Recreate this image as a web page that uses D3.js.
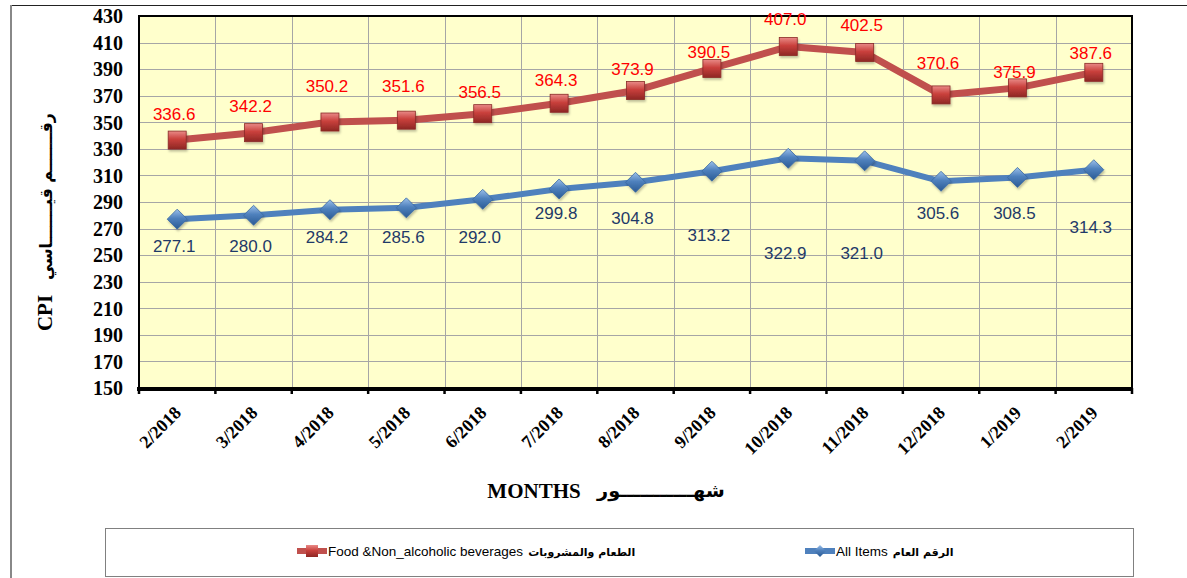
<!DOCTYPE html>
<html lang="en">
<head>
  <meta charset="UTF-8">
  <title>CPI Food and All Items</title>
  <style>
    body { margin: 0; background: #fff; }
    svg { display: block; }
    .ytick text { font-family: "Liberation Serif", "Times New Roman", serif; font-weight: bold; font-size: 20px; fill: #000; }
    .xlabel { font-family: "Liberation Serif", "Times New Roman", serif; font-weight: bold; font-size: 18px; fill: #000; }
    .val { font-family: "Liberation Sans", Arial, sans-serif; font-size: 17px; }
    .legend-text { font-family: "Liberation Sans", Arial, sans-serif; font-size: 13.5px; fill: #000; }
    .title-en { font-family: "Liberation Serif", "Times New Roman", serif; font-weight: bold; fill: #000; }
    .title-ar { font-family: "DejaVu Sans", sans-serif; font-weight: bold; fill: #000; }
  </style>
</head>
<body>
<div id="chart"></div>
<script src="https://cdn.jsdelivr.net/npm/d3@7"></script>
<script>
// data
const months = ["2/2018", "3/2018", "4/2018", "5/2018", "6/2018", "7/2018", "8/2018",
                "9/2018", "10/2018", "11/2018", "12/2018", "1/2019", "2/2019"];
const foodValues = [336.6, 342.2, 350.2, 351.6, 356.5, 364.3, 373.9, 390.5, 407.0, 402.5, 370.6, 375.9, 387.6];
const allItemsValues = [277.1, 280.0, 284.2, 285.6, 292.0, 299.8, 304.8, 313.2, 322.9, 321.0, 305.6, 308.5, 314.3];
const yTicks = [150, 170, 190, 210, 230, 250, 270, 290, 310, 330, 350, 370, 390, 410, 430];

// label nudges (px) as placed in the original sheet
const foodLabelDy = [-26, -27, -36, -34, -22, -23, -22, -16, -28, -28, -32, -16, -19];
const allLabelDy = [27, 31, 27, 29, 38, 24, 36, 64, 95, 92, 32, 36, 57];

const W = 1187, H = 578;
const plot = { left: 139, right: 1132, top: 16, bottom: 388 };

const svg = d3.select('#chart').append('svg')
  .attr('width', W).attr('height', H);

const defs = svg.append('defs');
const gRed = defs.append('linearGradient').attr('id', 'gRed')
  .attr('x1', 0).attr('y1', 0).attr('x2', 0).attr('y2', 1);
gRed.append('stop').attr('offset', '0%').attr('stop-color', '#e98a87');
gRed.append('stop').attr('offset', '45%').attr('stop-color', '#c9403c');
gRed.append('stop').attr('offset', '100%').attr('stop-color', '#8e2724');
const gBlue = defs.append('linearGradient').attr('id', 'gBlue')
  .attr('x1', 0).attr('y1', 0).attr('x2', 0).attr('y2', 1);
gBlue.append('stop').attr('offset', '0%').attr('stop-color', '#9cc0ea');
gBlue.append('stop').attr('offset', '45%').attr('stop-color', '#4f81bd');
gBlue.append('stop').attr('offset', '100%').attr('stop-color', '#2a5a94');
const shadow = defs.append('filter').attr('id', 'shadow')
  .attr('x', '-30%').attr('y', '-30%').attr('width', '160%').attr('height', '170%');
shadow.append('feDropShadow').attr('dx', 1).attr('dy', 2).attr('stdDeviation', 1.2)
  .attr('flood-color', '#000').attr('flood-opacity', 0.25);

// outer frame bits
svg.append('line').attr('x1', 11).attr('x2', W).attr('y1', 5.5).attr('y2', 5.5)
  .attr('stroke', '#222').attr('stroke-width', 1.2);
svg.append('line').attr('x1', 11).attr('x2', 11).attr('y1', 5).attr('y2', H)
  .attr('stroke', '#888').attr('stroke-width', 2);

const x = d3.scaleBand().domain(months).range([plot.left, plot.right]).padding(0);
const y = d3.scaleLinear().domain([150, 430]).range([plot.bottom, plot.top]);
const cx = d => x(d) + x.bandwidth() / 2;

// plot background
svg.append('rect')
  .attr('x', plot.left).attr('y', plot.top)
  .attr('width', plot.right - plot.left).attr('height', plot.bottom - plot.top)
  .attr('fill', '#ffffcc');

// grid
svg.append('g').selectAll('line')
  .data(yTicks.slice(1, -1))
  .join('line')
  .attr('x1', plot.left).attr('x2', plot.right)
  .attr('y1', d => Math.round(y(d)) + 0.5).attr('y2', d => Math.round(y(d)) + 0.5)
  .attr('stroke', '#a6a6a6').attr('stroke-width', 1);
svg.append('g').selectAll('line')
  .data(months.slice(1))
  .join('line')
  .attr('x1', d => Math.round(x(d)) + 0.5).attr('x2', d => Math.round(x(d)) + 0.5)
  .attr('y1', plot.top).attr('y2', plot.bottom)
  .attr('stroke', '#a6a6a6').attr('stroke-width', 1);

// plot border
svg.append('rect')
  .attr('x', plot.left).attr('y', plot.top)
  .attr('width', plot.right - plot.left).attr('height', plot.bottom - plot.top)
  .attr('fill', 'none').attr('stroke', '#000').attr('stroke-width', 2);

// y axis labels
svg.append('g')
  .attr('class', 'ytick')
  .attr('transform', `translate(${plot.left},0)`)
  .call(d3.axisLeft(y).tickValues(yTicks).tickSize(0).tickPadding(16).tickFormat(d3.format('d')))
  .call(g => g.select('.domain').remove())
  .selectAll('text').attr('dy', '0.34em');

// x axis: thick base line with ticks between categories
const boundaries = months.map(m => x(m)).concat([plot.right]);
svg.append('line')
  .attr('x1', plot.left - 2).attr('x2', plot.right + 1)
  .attr('y1', plot.bottom + 1).attr('y2', plot.bottom + 1)
  .attr('stroke', '#000').attr('stroke-width', 4);
svg.append('g').selectAll('line')
  .data(boundaries)
  .join('line')
  .attr('x1', d => d).attr('x2', d => d)
  .attr('y1', plot.bottom).attr('y2', plot.bottom + 6)
  .attr('stroke', '#000').attr('stroke-width', 2.5);

svg.append('g').selectAll('text')
  .data(months)
  .join('text')
  .attr('class', 'xlabel')
  .attr('text-anchor', 'end')
  .attr('transform', d => `translate(${cx(d) + 5},${plot.bottom + 26}) rotate(-45)`)
  .text(d => d);

// series
const food = months.map((m, i) => ({ m, v: foodValues[i], dy: foodLabelDy[i] }));
const allItems = months.map((m, i) => ({ m, v: allItemsValues[i], dy: allLabelDy[i] }));

const line = d3.line().x(d => cx(d.m)).y(d => y(d.v));

svg.append('path').datum(allItems)
  .attr('d', line).attr('fill', 'none')
  .attr('stroke', '#4f81bd').attr('stroke-width', 6).attr('stroke-linejoin', 'round');
svg.append('path').datum(food)
  .attr('d', line).attr('fill', 'none')
  .attr('stroke', '#c0504d').attr('stroke-width', 7).attr('stroke-linejoin', 'round');

const diamond = 'M0,-10L10,0L0,10L-10,0Z';
svg.append('g').selectAll('path')
  .data(allItems)
  .join('path')
  .attr('d', diamond)
  .attr('transform', d => `translate(${cx(d.m)},${y(d.v)})`)
  .attr('fill', 'url(#gBlue)').attr('stroke', '#3a6aa3').attr('stroke-width', 0.8)
  .attr('filter', 'url(#shadow)');

svg.append('g').selectAll('rect')
  .data(food)
  .join('rect')
  .attr('x', d => cx(d.m) - 9).attr('y', d => y(d.v) - 9)
  .attr('width', 18).attr('height', 18)
  .attr('fill', 'url(#gRed)').attr('stroke', '#8a2a27').attr('stroke-width', 0.8)
  .attr('filter', 'url(#shadow)');

// value labels
svg.append('g').selectAll('text')
  .data(food)
  .join('text')
  .attr('class', 'val')
  .attr('x', d => cx(d.m) - 3).attr('y', d => y(d.v) + d.dy + 6)
  .attr('text-anchor', 'middle').attr('fill', '#ff0000')
  .text(d => d.v.toFixed(1));

svg.append('g').selectAll('text')
  .data(allItems)
  .join('text')
  .attr('class', 'val')
  .attr('x', d => cx(d.m) - 3).attr('y', d => y(d.v) + d.dy + 6)
  .attr('text-anchor', 'middle').attr('fill', '#1f3a68')
  .text(d => d.v.toFixed(1));

// stretch a text horizontally (in its own frame) to a target width
function fitWidth(sel, target) {
  const w = sel.node().getComputedTextLength();
  return w > 0 ? target / w : 1;
}

// axis titles
svg.append('text').attr('class', 'title-en')
  .attr('x', 534).attr('y', 498).attr('text-anchor', 'middle')
  .style('font-size', '21px').text('MONTHS');
const arX = svg.append('text').attr('class', 'title-ar')
  .attr('text-anchor', 'start')
  .style('font-size', '18px').text('شهـــــــــــور');
arX.attr('transform', `translate(597,497) scale(${fitWidth(arX, 128)},1)`);

svg.append('text').attr('class', 'title-en')
  .attr('transform', 'translate(52,313) rotate(-90)')
  .attr('text-anchor', 'middle')
  .style('font-size', '21px').text('CPI');
const arY = svg.append('text').attr('class', 'title-ar')
  .attr('text-anchor', 'start')
  .style('font-size', '17px').text('رقـــــــم قيـــــــاسي');
arY.attr('transform', `translate(52,280) rotate(-90) scale(${fitWidth(arY, 167)},1)`);

// legend
svg.append('rect')
  .attr('x', 105.5).attr('y', 528.5).attr('width', 1028).attr('height', 48)
  .attr('fill', '#fff').attr('stroke', '#808080').attr('stroke-width', 1);

const legendItems = [
  { en: 'Food &Non_alcoholic beverages', ar: 'الطعام والمشروبات', x0: 297, color: '#c0504d', shape: 'square' },
  { en: 'All Items', ar: 'الرقم العام', x0: 805, color: '#4f81bd', shape: 'diamond' }
];
const lg = svg.append('g').selectAll('g')
  .data(legendItems)
  .join('g')
  .attr('transform', d => `translate(${d.x0},551)`);
lg.append('line').attr('x1', 0).attr('x2', 30).attr('y1', 0).attr('y2', 0)
  .attr('stroke', d => d.color).attr('stroke-width', 6);
lg.filter(d => d.shape === 'square').append('rect')
  .attr('x', 9).attr('y', -6).attr('width', 12).attr('height', 12)
  .attr('fill', 'url(#gRed)');
lg.filter(d => d.shape === 'diamond').append('path')
  .attr('d', 'M15,-6L21,0L15,6L9,0Z').attr('fill', 'url(#gBlue)');
lg.append('text').attr('class', 'legend-text')
  .attr('x', 31).attr('y', 5)
  .text(d => d.en)
  .each(function (d) {
    const w = this.getComputedTextLength();
    d3.select(this.parentNode).append('text')
      .attr('class', 'legend-text')
      .attr('x', 31 + w + 5).attr('y', 5)
      .attr('text-anchor', 'start')
      .style('font-family', '"DejaVu Sans", sans-serif')
      .style('font-weight', 'bold').style('font-size', '11px')
      .text(d.ar);
  });
</script>
</body>
</html>
